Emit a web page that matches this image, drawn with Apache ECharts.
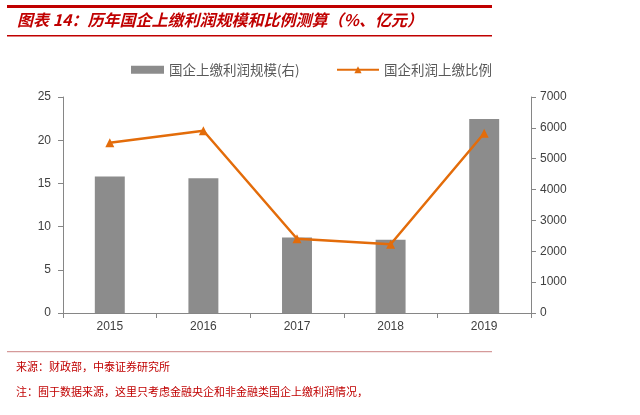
<!DOCTYPE html>
<html>
<head>
<meta charset="utf-8">
<script src="https://cdn.jsdelivr.net/npm/echarts@6/dist/echarts.min.js"></script>
<style>
  html, body { margin: 0; padding: 0; background: #fff; }
  #char { width: 640px; height: 415px; }
</style>
</head>
<body>
<div id="char"></div>
<script>
var years = ['2015', '2016', '2017', '2018', '2019']
// 国企上缴利润规模（亿元，右轴）
var profitScale = [4420, 4370, 2450, 2370, 6290]
// 国企利润上缴比例（%，左轴）
var payRatio = [19.7, 21.1, 8.6, 7.95, 20.8]

var red = '#C00000'
var myChart = echarts.init(document.getElementById('char'))
var legendText = { fontFamily: 'Noto Sans CJK SC', fontSize: 13.5, color: '#595959' }
var option = {
  animation: false,
  textStyle: { fontFamily: 'Liberation Sans, Arial, sans-serif' },
  graphic: [
    { type: 'rect', shape: { x: 7, y: 5, width: 485, height: 3 }, style: { fill: red } },
    {
      type: 'text', left: 17, top: 12,
      style: {
        text: '图表 14：历年国企上缴利润规模和比例测算（%、亿元）',
        font: 'italic bold 16px "Noto Sans CJK SC"',
        fill: red
      }
    },
    { type: 'rect', shape: { x: 7, y: 35, width: 485, height: 1.5 }, style: { fill: red } },
    { type: 'rect', shape: { x: 7, y: 351, width: 485, height: 1.2 }, style: { fill: '#D59A9A' } },
    {
      type: 'text', left: 16, top: 361,
      style: { text: '来源：财政部，中泰证券研究所', font: '11px "Noto Sans CJK SC"', fill: red }
    },
    {
      type: 'text', left: 16, top: 386,
      style: { text: '注：囿于数据来源，这里只考虑金融央企和非金融类国企上缴利润情况，', font: '11px "Noto Sans CJK SC"', fill: red }
    }
  ],
  legend: [
    {
      top: 58,
      left: 126,
      itemWidth: 33,
      itemHeight: 8,
      textStyle: legendText,
      data: [{ name: '国企上缴利润规模(右)', icon: 'rect' }]
    },
    {
      top: 58,
      left: 331,
      itemWidth: 42,
      itemHeight: 9,
      textStyle: legendText,
      data: [{ name: '国企利润上缴比例' }]
    }
  ],
  grid: { left: 63, right: 109, top: 97, bottom: 102 },
  xAxis: {
    type: 'category',
    data: years,
    axisLine: { lineStyle: { color: '#868686' } },
    axisTick: { show: true, length: 5, lineStyle: { color: '#868686' } },
    axisLabel: { color: '#404040', fontSize: 12, margin: 8 }
  },
  yAxis: [
    {
      type: 'value', min: 0, max: 25, interval: 5, position: 'left',
      axisLine: { show: true, lineStyle: { color: '#868686' } },
      axisTick: { show: true, length: 5, lineStyle: { color: '#868686' } },
      axisLabel: { color: '#404040', fontSize: 12, margin: 12 },
      splitLine: { show: false }
    },
    {
      type: 'value', min: 0, max: 7000, interval: 1000, position: 'right',
      axisLine: { show: true, lineStyle: { color: '#868686' } },
      axisTick: { show: true, length: 5, lineStyle: { color: '#868686' } },
      axisLabel: { color: '#404040', fontSize: 12, margin: 9, formatter: function (v) { return String(v) } },
      splitLine: { show: false }
    }
  ],
  series: [
    {
      name: '国企上缴利润规模(右)',
      type: 'bar',
      yAxisIndex: 1,
      barWidth: '32%',
      itemStyle: { color: '#8C8C8C' },
      data: profitScale
    },
    {
      name: '国企利润上缴比例',
      type: 'line',
      yAxisIndex: 0,
      symbol: 'triangle',
      symbolSize: 9,
      lineStyle: { color: '#E36C0A', width: 2.5 },
      itemStyle: { color: '#E36C0A' },
      data: payRatio
    }
  ]
}
myChart.setOption(option)
</script>
</body>
</html>
